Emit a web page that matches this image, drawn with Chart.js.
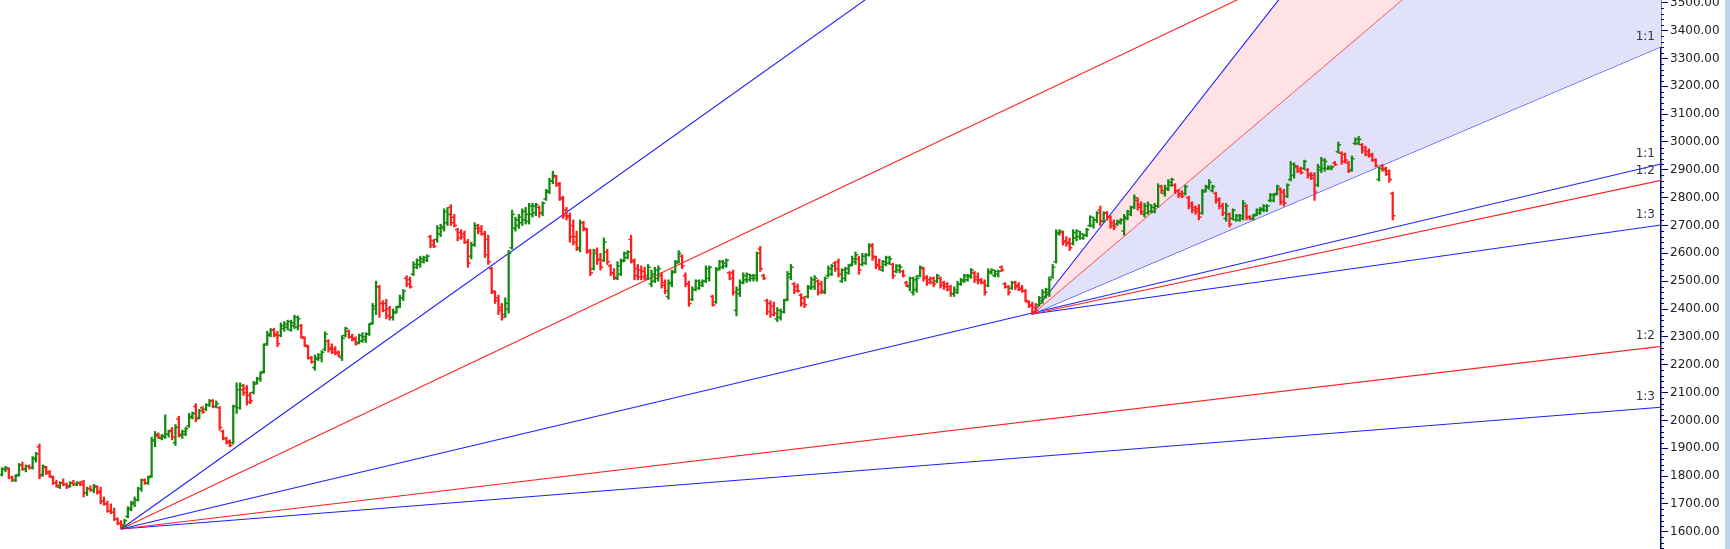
<!DOCTYPE html>
<html>
<head>
<meta charset="utf-8">
<title>Gann fan chart</title>
<script src="https://cdn.jsdelivr.net/npm/chart.js@4.4.1/dist/chart.umd.min.js"></script>
<style>
  html, body { margin: 0; padding: 0; background: #fff; }
  #wrap { position: relative; width: 1730px; height: 549px; overflow: hidden; }
  #chart { position: absolute; left: 0; top: 0; }
  #edge { position: absolute; right: 0; top: 0; width: 5px; height: 549px; background: #bcd4ec; }
</style>
</head>
<body>
<div id="wrap"><canvas id="chart" width="1725" height="549"></canvas><div id="edge"></div></div>
<script>
// daily OHLC, one value per bar (index = bar number)
const opens = [
  1805,1825,1825,1795,1785,1805,1840,1825,1835,1830,
  1860,1905,1805,1830,1815,1795,1775,1760,1775,1770,
  1765,1775,1770,1775,1780,1740,1755,1750,1760,1745,
  1710,1700,1675,1670,1645,1630,1620,1655,1680,1700,
  1715,1755,1785,1775,1800,1925,1945,1935,1940,1950,
  1965,1920,2005,1945,1950,1980,2010,2050,2010,2045,
  2040,2055,2070,2050,2045,1960,1935,1925,1920,2050,
  2045,2110,2115,2090,2100,2135,2150,2175,2275,2305,
  2325,2310,2305,2330,2335,2325,2340,2335,2340,2295,
  2265,2225,2190,2220,2225,2255,2285,2260,2255,2245,
  2225,2305,2320,2300,2295,2280,2285,2290,2310,2350,
  2400,2480,2420,2420,2400,2370,2390,2410,2440,2510,
  2505,2525,2550,2560,2570,2575,2660,2645,2650,2670,
  2690,2710,2765,2730,2685,2675,2670,2640,2590,2630,
  2690,2690,2670,2650,2545,2460,2440,2405,2380,2400,
  2620,2690,2700,2710,2720,2715,2740,2745,2765,2745,
  2795,2820,2860,2875,2850,2795,2755,2735,2700,2660,
  2615,2710,2685,2605,2545,2610,2580,2575,2605,2555,
  2530,2510,2525,2575,2585,2650,2570,2545,2540,2535,
  2510,2490,2500,2510,2520,2495,2445,2490,2535,2570,
  2590,2520,2490,2435,2470,2475,2485,2500,2510,2445,
  2425,2545,2550,2555,2530,2530,2395,2455,2495,2505,
  2505,2510,2510,2615,2520,2430,2420,2410,2365,2370,
  2390,2435,2515,2490,2480,2450,2440,2445,2475,2480,
  2500,2490,2460,2520,2525,2565,2570,2500,2510,2530,
  2560,2570,2580,2560,2565,2595,2625,2585,2560,2540,
  2560,2565,2560,2535,2540,2535,2495,2480,2460,2470,
  2520,2545,2515,2505,2510,2500,2510,2495,2490,2480,
  2455,2460,2490,2500,2505,2515,2530,2515,2505,2495,
  2485,2530,2520,2525,2550,2490,2480,2475,2495,2485,
  2475,2465,2425,2415,2405,2415,2430,2445,2460,2515,
  2570,2670,2675,2645,2640,2635,2655,2660,2655,2665,
  2700,2700,2720,2755,2715,2745,2730,2710,2705,2710,
  2680,2725,2740,2765,2790,2775,2740,2745,2750,2750,
  2770,2840,2815,2830,2845,2845,2825,2815,2815,2800,
  2780,2765,2760,2745,2825,2835,2825,2815,2795,2770,
  2725,2740,2725,2720,2720,2725,2770,2730,2725,2740,
  2745,2755,2755,2790,2790,2815,2830,2820,2805,2865,
  2880,2910,2905,2905,2900,2885,2880,2845,2900,2905,
  2905,2905,2925,2965,2960,2955,2925,2900,2995,2995,
  2990,2980,2965,2955,2935,2865,2915,2905,2895,2815
];
const highs = [
  1830,1835,1830,1800,1805,1845,1850,1840,1840,1870,
  1885,1915,1840,1835,1820,1800,1785,1780,1790,1775,
  1780,1785,1780,1780,1785,1760,1765,1770,1765,1760,
  1725,1710,1700,1685,1650,1640,1645,1690,1710,1725,
  1760,1790,1790,1800,1940,1960,1955,1950,2020,1965,
  1975,1985,2015,1965,1975,2025,2030,2060,2040,2050,
  2060,2075,2075,2070,2050,1965,1940,1930,2055,2135,
  2135,2130,2125,2100,2140,2155,2175,2275,2320,2330,
  2330,2320,2350,2355,2360,2360,2378,2375,2345,2300,
  2270,2230,2235,2240,2250,2318,2290,2275,2265,2250,
  2305,2335,2325,2310,2300,2310,2315,2315,2348,2420,
  2500,2485,2430,2435,2410,2400,2410,2450,2470,2520,
  2515,2570,2580,2590,2590,2595,2665,2650,2700,2705,
  2760,2765,2775,2740,2690,2685,2680,2650,2640,2710,
  2705,2700,2680,2665,2550,2465,2450,2420,2440,2610,
  2755,2730,2740,2760,2765,2780,2780,2780,2770,2785,
  2830,2870,2895,2880,2855,2805,2765,2745,2720,2680,
  2720,2715,2690,2615,2615,2620,2600,2655,2615,2560,
  2545,2570,2580,2605,2610,2665,2580,2560,2555,2550,
  2560,2540,2550,2555,2530,2505,2505,2540,2575,2610,
  2595,2530,2500,2480,2505,2505,2505,2555,2555,2450,
  2550,2575,2575,2580,2535,2540,2480,2505,2530,2530,
  2525,2525,2605,2625,2525,2435,2430,2425,2405,2400,
  2435,2535,2560,2495,2490,2455,2445,2485,2515,2520,
  2505,2500,2515,2555,2560,2570,2580,2545,2550,2560,
  2590,2605,2590,2600,2600,2635,2635,2590,2580,2575,
  2590,2590,2565,2560,2560,2540,2500,2515,2515,2520,
  2555,2550,2520,2515,2515,2525,2515,2500,2495,2485,
  2480,2500,2510,2525,2525,2545,2535,2530,2510,2505,
  2545,2545,2540,2540,2555,2495,2485,2500,2500,2495,
  2485,2470,2430,2425,2420,2445,2470,2475,2515,2560,
  2685,2685,2680,2660,2655,2685,2685,2680,2670,2690,
  2735,2730,2750,2770,2750,2750,2735,2720,2720,2725,
  2740,2755,2770,2810,2800,2785,2780,2785,2775,2780,
  2850,2845,2845,2865,2870,2850,2830,2825,2845,2805,
  2785,2770,2775,2830,2845,2865,2845,2820,2800,2780,
  2780,2745,2760,2740,2740,2790,2775,2735,2740,2760,
  2765,2775,2775,2815,2815,2845,2835,2830,2850,2930,
  2925,2915,2910,2935,2905,2890,2890,2920,2945,2940,
  2915,2915,2930,3000,2965,2960,2930,2950,3015,3020,
  2995,2985,2975,2960,2940,2910,2920,2910,2900,2820
];
const lows = [
  1800,1815,1790,1780,1780,1800,1820,1815,1825,1825,
  1850,1790,1800,1805,1795,1770,1760,1755,1765,1755,
  1760,1765,1765,1765,1725,1730,1745,1740,1735,1700,
  1695,1670,1665,1640,1625,1610,1615,1650,1675,1690,
  1710,1745,1770,1770,1795,1905,1935,1930,1935,1940,
  1930,1910,1940,1935,1945,1975,2005,1995,2005,2025,
  2035,2050,2045,2045,1965,1930,1915,1905,1915,2025,
  2040,2090,2055,2060,2095,2130,2140,2170,2270,2300,
  2300,2265,2300,2320,2325,2320,2330,2325,2295,2265,
  2220,2205,2180,2215,2210,2250,2245,2240,2235,2228,
  2215,2300,2295,2285,2270,2275,2280,2280,2305,2345,
  2380,2370,2390,2365,2360,2360,2385,2405,2430,2480,
  2475,2520,2545,2550,2565,2570,2620,2620,2640,2660,
  2680,2700,2700,2695,2645,2650,2635,2550,2580,2625,
  2670,2665,2585,2560,2455,2420,2380,2360,2370,2385,
  2615,2680,2690,2700,2705,2705,2730,2735,2730,2735,
  2790,2815,2850,2840,2790,2725,2720,2640,2630,2610,
  2605,2680,2600,2520,2540,2560,2540,2570,2560,2520,
  2505,2505,2520,2570,2580,2565,2505,2505,2505,2505,
  2505,2480,2495,2500,2475,2455,2435,2480,2530,2565,
  2545,2480,2410,2430,2465,2470,2480,2495,2500,2410,
  2420,2540,2545,2550,2505,2450,2375,2445,2490,2495,
  2500,2500,2500,2535,2505,2380,2370,2375,2355,2360,
  2385,2430,2505,2455,2460,2410,2405,2440,2470,2470,
  2450,2455,2455,2515,2520,2535,2515,2495,2500,2525,
  2555,2560,2525,2555,2560,2590,2575,2545,2540,2535,
  2555,2560,2510,2530,2530,2515,2480,2465,2450,2460,
  2515,2500,2485,2490,2480,2495,2475,2470,2465,2445,
  2445,2455,2485,2495,2500,2510,2495,2490,2490,2450,
  2480,2525,2515,2515,2535,2475,2450,2470,2470,2465,
  2460,2425,2405,2380,2385,2410,2420,2440,2445,2510,
  2565,2665,2630,2625,2610,2630,2645,2650,2650,2660,
  2695,2690,2710,2700,2710,2720,2690,2685,2700,2705,
  2665,2720,2735,2760,2755,2740,2730,2740,2745,2745,
  2765,2815,2805,2825,2840,2815,2800,2800,2810,2760,
  2745,2740,2720,2740,2820,2830,2820,2780,2760,2735,
  2715,2695,2720,2715,2715,2720,2720,2720,2720,2735,
  2740,2750,2750,2785,2785,2810,2775,2770,2800,2860,
  2870,2890,2885,2900,2870,2865,2790,2840,2890,2895,
  2900,2900,2915,2960,2920,2925,2890,2895,2990,2990,
  2960,2950,2945,2930,2910,2860,2895,2880,2855,2720
];
const closes = [
  1825,1830,1795,1785,1800,1840,1825,1835,1830,1865,
  1880,1800,1835,1810,1800,1775,1765,1775,1770,1760,
  1775,1770,1775,1770,1740,1755,1750,1765,1740,1710,
  1700,1675,1670,1645,1630,1625,1640,1685,1705,1715,
  1755,1785,1775,1795,1930,1950,1940,1945,1950,1960,
  1940,1975,1950,1960,1970,2015,2025,2005,2035,2030,
  2055,2070,2050,2060,1975,1935,1920,1910,2050,2110,
  2125,2100,2065,2070,2130,2150,2170,2270,2310,2325,
  2305,2275,2340,2345,2355,2350,2370,2365,2300,2270,
  2225,2210,2225,2235,2245,2310,2255,2245,2240,2232,
  2295,2330,2300,2290,2275,2305,2300,2310,2345,2410,
  2480,2420,2395,2375,2370,2385,2405,2440,2465,2490,
  2480,2560,2575,2580,2585,2590,2630,2625,2690,2695,
  2750,2740,2710,2700,2655,2660,2640,2565,2630,2700,
  2680,2670,2595,2570,2465,2430,2395,2370,2420,2600,
  2740,2720,2730,2750,2740,2770,2770,2775,2745,2780,
  2825,2860,2880,2845,2800,2735,2730,2660,2640,2620,
  2710,2690,2610,2530,2600,2575,2550,2640,2570,2530,
  2515,2555,2570,2600,2605,2575,2520,2515,2515,2520,
  2550,2525,2540,2545,2485,2465,2495,2530,2565,2600,
  2555,2490,2420,2470,2500,2495,2500,2545,2550,2415,
  2540,2570,2565,2575,2510,2460,2470,2495,2520,2525,
  2520,2520,2600,2545,2510,2390,2380,2385,2395,2390,
  2430,2525,2550,2465,2465,2420,2415,2480,2505,2510,
  2460,2465,2510,2545,2555,2545,2525,2540,2545,2555,
  2580,2595,2540,2590,2595,2630,2590,2555,2550,2570,
  2585,2580,2520,2555,2550,2520,2485,2510,2505,2510,
  2550,2510,2495,2495,2490,2520,2485,2480,2470,2455,
  2470,2490,2505,2520,2520,2540,2505,2500,2495,2460,
  2535,2540,2535,2535,2540,2480,2460,2495,2480,2470,
  2465,2430,2410,2390,2395,2440,2460,2470,2505,2550,
  2675,2680,2640,2635,2620,2675,2680,2670,2665,2685,
  2730,2720,2745,2715,2745,2730,2700,2695,2715,2720,
  2730,2750,2765,2800,2765,2750,2770,2775,2765,2770,
  2840,2825,2835,2855,2865,2825,2810,2805,2840,2770,
  2755,2750,2730,2820,2840,2855,2840,2790,2770,2745,
  2770,2705,2755,2735,2735,2780,2730,2725,2735,2755,
  2760,2770,2770,2810,2810,2840,2785,2780,2845,2920,
  2915,2895,2890,2930,2880,2870,2820,2910,2935,2930,
  2910,2910,2918,2990,2930,2935,2895,2940,3010,3010,
  2970,2955,2950,2935,2915,2905,2900,2885,2865,2735
];

// price axis ticks
const yTicks = [1600, 1700, 1800, 1900, 2000, 2100, 2200, 2300, 2400, 2500,
                2600, 2700, 2800, 2900, 3000, 3100, 3200, 3300, 3400, 3500];

// gann fans: start bar/price, and the price each ray reaches at the right edge
const fanNames = ['3:1', '2:1', '1:1', '1:2', '1:3'];
const fan1Start = [35, 1610];
const fan1Ends = [5543, 4232, 2921, 2266, 2047];
const fan2Start = [303, 2382];
const fan2Ends = [5262, 4302, 3342, 2862, 2702];

// view window
const X_MIN = -0.6;
const X_MAX = 487.9;
const Y_MIN = 1538;
const Y_MAX = 3510;

const UP_COLOR = '#148a10';
const DOWN_COLOR = '#ff1e1e';
const BLUE = '#1f1fff';
const RED = '#ff2424';
const AXIS_COLOR = '#000080';
const fanColors = [BLUE, RED, BLUE, RED, BLUE];

// build datasets
let barData = [], openTicks = [], closeTicks = [], barColors = [];
for (let i = 0; i < closes.length; i++) {
    barData.push({ x: i, y: [lows[i], highs[i]] });
    openTicks.push({ x: i - 0.38, y: opens[i] });
    closeTicks.push({ x: i + 0.38, y: closes[i] });
    barColors.push(closes[i] >= opens[i] ? UP_COLOR : DOWN_COLOR);
}

function fanDatasets(start, ends, fills) {
    return ends.map((end, k) => ({
        type: 'line',
        label: fanNames[k],
        data: [{ x: start[0], y: start[1] }, { x: X_MAX, y: end }],
        borderColor: fanColors[k],
        borderWidth: 1.1,
        pointRadius: 0,
        fill: fills && fills[k] ? { target: '+1' } : false,
        backgroundColor: fills && fills[k] ? fills[k] : 'transparent',
        order: 10
    }));
}

const datasets = [
    ...fanDatasets(fan2Start, fan2Ends, ['#ffe2e5', '#e1e1fa', null, null, null]),
    ...fanDatasets(fan1Start, fan1Ends, null),
    {
        type: 'bar',
        data: barData,
        backgroundColor: barColors,
        borderWidth: 0,
        barThickness: 1.6,
        grouped: false,
        order: 2
    },
    {
        type: 'scatter',
        data: openTicks,
        pointStyle: 'line',
        pointRadius: 1.4,
        pointBorderWidth: 1.5,
        pointBorderColor: barColors,
        order: 1
    },
    {
        type: 'scatter',
        data: closeTicks,
        pointStyle: 'line',
        pointRadius: 1.4,
        pointBorderWidth: 1.5,
        pointBorderColor: barColors,
        order: 1
    }
];

// small ticks between the labelled ones
const minorTicks = {
    id: 'minorTicks',
    afterDraw(chart) {
        const y = chart.scales.y;
        const ctx = chart.ctx;
        ctx.save();
        ctx.strokeStyle = AXIS_COLOR;
        ctx.lineWidth = 1;
        for (let v = 1540; v <= Y_MAX; v += 20) {
            if (v % 100 === 0) continue;
            const py = Math.round(y.getPixelForValue(v)) + 0.5;
            ctx.beginPath();
            ctx.moveTo(y.left, py);
            ctx.lineTo(y.left + 3, py);
            ctx.stroke();
        }
        ctx.restore();
    }
};

// ratio names written where the rays meet the price axis
const fanLabels = {
    id: 'fanLabels',
    afterDatasetsDraw(chart) {
        const y = chart.scales.y;
        const ctx = chart.ctx;
        const right = chart.chartArea.right;
        ctx.save();
        ctx.font = '12px "DejaVu Sans"';
        ctx.fillStyle = '#333344';
        ctx.textAlign = 'right';
        ctx.textBaseline = 'middle';
        [fan1Ends, fan2Ends].forEach(ends => {
            ends.forEach((end, k) => {
                if (end > Y_MAX) return;
                ctx.fillText(fanNames[k], right - 6, y.getPixelForValue(end) - 10);
            });
        });
        ctx.restore();
    }
};

new Chart(document.getElementById('chart'), {
    type: 'bar',
    data: { datasets: datasets },
    options: {
        responsive: false,
        animation: false,
        events: [],
        layout: { padding: 0, autoPadding: false },
        plugins: {
            legend: { display: false },
            tooltip: { enabled: false },
            title: { display: false }
        },
        scales: {
            x: { type: 'linear', display: false, min: X_MIN, max: X_MAX, offset: false },
            y: {
                position: 'right',
                min: Y_MIN,
                max: Y_MAX,
                afterFit: s => { s.width = 64; s.paddingTop = 0; s.paddingBottom = 0; },
                afterBuildTicks: s => { s.ticks = yTicks.map(v => ({ value: v })); },
                grid: { drawOnChartArea: false, drawTicks: true, tickLength: 7, color: AXIS_COLOR },
                border: { display: true, color: AXIS_COLOR, width: 1.5 },
                ticks: {
                    padding: 2,
                    color: '#222222',
                    font: { family: 'DejaVu Sans', size: 12 },
                    callback: v => Number(v).toFixed(2)
                }
            }
        }
    },
    plugins: [minorTicks, fanLabels]
});
</script>
</body>
</html>
